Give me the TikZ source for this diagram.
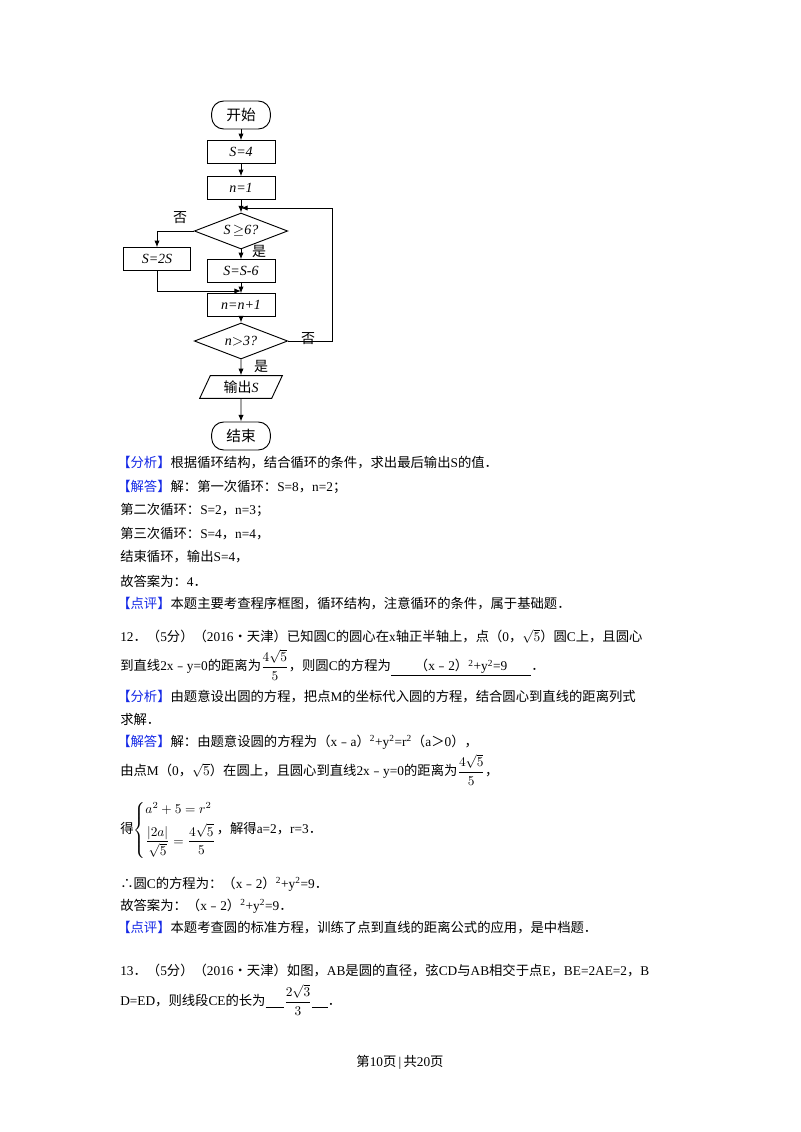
\documentclass[tikz,border=0pt]{standalone}
\usepackage{amsmath}
\usepackage{fontspec}
\setmainfont{Liberation Serif}
\newfontfamily\cjk{Noto Sans CJK SC}
\usetikzlibrary{shapes.geometric,arrows.meta}
\definecolor{blu}{RGB}{20,40,230}
\newcommand\zh[1]{{\cjk #1}}
\newcommand\blu[1]{\textcolor{blu}{\zh{#1}}}
\begin{document}
\begin{tikzpicture}[x=0.75pt,y=-0.75pt,
  every node/.style={inner sep=0pt,font=\fontsize{10}{12}\selectfont},
  fbox/.style={draw,line width=0.7pt,minimum width=51pt,minimum height=17pt,font=\fontsize{10.5}{12}\selectfont\itshape},
  term/.style={draw,line width=0.7pt,rounded corners=9pt,minimum width=44pt,minimum height=21pt,font=\fontsize{11}{12}\selectfont},
  dia/.style={draw,line width=0.7pt,diamond,aspect=2.6,minimum width=70pt,minimum height=27pt,font=\fontsize{10.5}{12}\selectfont\itshape},
  para/.style={draw,line width=0.7pt,trapezium,trapezium left angle=65,trapezium right angle=115,minimum width=60pt,minimum height=17pt,font=\fontsize{10.5}{12}\selectfont},
  arr/.style={-{Latex[length=5pt,width=4pt]},line width=0.7pt},
  lab/.style={font=\fontsize{10.5}{12}\selectfont},
  txt/.style={anchor=west}]
\useasboundingbox (0,0) rectangle (800,1132);
% flowchart
\node[term] (start) at (241,115) {\zh{开始}};
\node[fbox] (s4) at (241,152) {S=4};
\node[fbox] (n1) at (241,188) {n=1};
\coordinate (j1) at (241,208);
\node[dia] (d1) at (241,231) {S\,$\geq$6?};
\node[fbox,minimum width=50pt] (s2s) at (157,259) {S=2S};
\node[fbox] (ss6) at (241,271) {S=S-6};
\coordinate (j2) at (241,291);
\node[fbox] (nn1) at (241,305) {n=n+1};
\node[dia] (d2) at (241,341) {n$>$3?};
\node[para] (out) at (241,387) {\zh{输出}\textit{S}};
\node[term] (end) at (241,436) {\zh{结束}};
\draw[arr] (start) -- (s4);
\draw[arr] (s4) -- (n1);
\draw[arr] (n1) -- (d1);
\draw[arr] (d1.south) -- (ss6);
\draw[arr] (d1.west) -| (s2s.north);
\draw[arr] (s2s.south) |- (j2);
\draw[arr] (ss6) -- (nn1);
\draw[arr] (nn1) -- (d2);
\draw[arr] (d2) -- (out);
\draw[arr] (out) -- (end);
\coordinate (rc) at (332,208);
\draw[arr] (d2.east) -| (rc) -- (j1);
\node[lab] (no1) at (180,218) {\zh{否}};
\node[lab] (yes1) at (259,251) {\zh{是}};
\node[lab] (no2) at (308,339) {\zh{否}};
\node[lab] (yes2) at (261,366) {\zh{是}};
% text
\node[txt] (t1) at (117,463) {\blu{【分析】}\zh{根据循环结构，结合循环的条件，求出最后输出}S\zh{的值．}};
\node[txt] (t2) at (117,487) {\blu{【解答】}\zh{解：第一次循环：}S=8\zh{，}n=2\zh{；}};
\node[txt] (t3) at (120,510) {\zh{第二次循环：}S=2\zh{，}n=3\zh{；}};
\node[txt] (t4) at (120,534) {\zh{第三次循环：}S=4\zh{，}n=4\zh{，}};
\node[txt] (t5) at (120,557) {\zh{结束循环，输出}S=4\zh{，}};
\node[txt] (t6) at (120,581) {\zh{故答案为：}4\zh{．}};
\node[txt] (t7) at (117,604) {\blu{【点评】}\zh{本题主要考查程序框图，循环结构，注意循环的条件，属于基础题．}};
\node[txt] (t8) at (120,636) {12\zh{．（}5\zh{分）（}2016\zh{•天津）已知圆}C\zh{的圆心在}x\zh{轴正半轴上，点（}0\zh{，}$\sqrt{5}$\zh{）圆}C\zh{上，且圆心}};
\node[txt] (t9) at (120,665) {\zh{到直线}2x\zh{﹣}y=0\zh{的距离为}$\dfrac{4\sqrt{5}}{5}$\zh{，则圆}C\zh{的方程为}\underline{\hspace{1.8em}\zh{（}x\zh{﹣}2\zh{）}\textsuperscript{2}+y\textsuperscript{2}=9\hspace{1.8em}}\zh{．}};
\node[txt] (t10) at (117,697) {\blu{【分析】}\zh{由题意设出圆的方程，把点}M\zh{的坐标代入圆的方程，结合圆心到直线的距离列式}};
\node[txt] (t11) at (120,719) {\zh{求解．}};
\node[txt] (t12) at (117,742) {\blu{【解答】}\zh{解：由题意设圆的方程为（}x\zh{﹣}a\zh{）}\textsuperscript{2}+y\textsuperscript{2}=r\textsuperscript{2}\zh{（}a\zh{＞}0\zh{），}};
\node[txt] (t13) at (120,770) {\zh{由点}M\zh{（}0\zh{，}$\sqrt{5}$\zh{）在圆上，且圆心到直线}2x\zh{﹣}y=0\zh{的距离为}$\dfrac{4\sqrt{5}}{5}$\zh{，}};
\node[txt] (t14) at (120,830) {\zh{得}$\left\{\begin{array}{@{}l@{}} a^2+5=r^2\\[4pt] \dfrac{|2a|}{\sqrt{5}}=\dfrac{4\sqrt{5}}{5}\end{array}\right.$\zh{，解得}a=2\zh{，}r=3\zh{．}};
\node[txt] (t15) at (120,884) {\zh{∴圆}C\zh{的方程为：（}x\zh{﹣}2\zh{）}\textsuperscript{2}+y\textsuperscript{2}=9\zh{．}};
\node[txt] (t16) at (120,906) {\zh{故答案为：（}x\zh{﹣}2\zh{）}\textsuperscript{2}+y\textsuperscript{2}=9\zh{．}};
\node[txt] (t17) at (117,928) {\blu{【点评】}\zh{本题考查圆的标准方程，训练了点到直线的距离公式的应用，是中档题．}};
\node[txt] (t18) at (120,970) {13\zh{．（}5\zh{分）（}2016\zh{•天津）如图，}AB\zh{是圆的直径，弦}CD\zh{与}AB\zh{相交于点}E\zh{，}BE=2AE=2\zh{，}B};
\node[txt] (t19) at (120,1000) {D=ED\zh{，则线段}CE\zh{的长为}\rule[-1.5pt]{1.4em}{0.4pt}$\dfrac{2\sqrt{3}}{3}$\rule[-1.5pt]{1.2em}{0.4pt}\zh{．}};
\node (foot) at (400,1062) {\zh{第}10\zh{页}\,|\,\zh{共}20\zh{页}};
\end{tikzpicture}
\end{document}
